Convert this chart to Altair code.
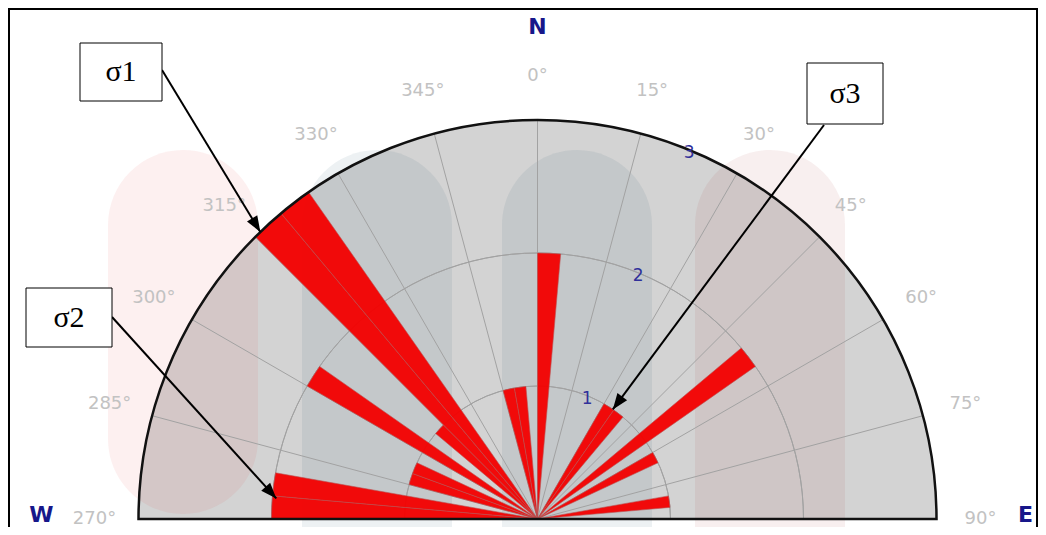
import math
import altair as alt
import pandas as pd

# ---------------- data ----------------
bin_start = [270, 275, 285, 290, 300, 310, 315, 320, 345, 350, 0, 30, 35, 50, 60, 80]
bin_count = [2, 2, 1, 1, 2, 1, 3, 3, 1, 1, 2, 1, 1, 2, 1, 1]
BIN_WIDTH = 5
angle_ticks = [270, 285, 300, 315, 330, 345, 0, 15, 30, 45, 60, 75, 90]
ring_values = [1, 2]
ring_label_values = [1, 2, 3]
MAX_COUNT = 3
cardinal_labels = ["W", "N", "E"]
cardinal_angles = [270, 0, 90]
sigma_labels = ["σ1", "σ2", "σ3"]
sigma_tip_angle = [316, 274.5, 34.5]
sigma_tip_value = [3.0, 1.97, 1.0]

# ---------------- layout ----------------
W, H = 1030, 519
CX, CY = 529.5, 511.0
R = 399.0
LABEL_R = 443.0
cardinal_r = [496, 492, 488]
cardinal_dy = [3, 7, 3]
sigma_box_x = [72, 18, 799]
sigma_box_y = [35, 280, 55]
sigma_box_w = [82, 86, 76]
sigma_box_h = [58, 59, 61]
sigma_start_x = [154, 104, 816]
sigma_start_y = [62, 309, 117]

pillar_x0 = [100, 294, 494, 687]
pillar_x1 = [250, 444, 644, 837]
pillar_y0 = [142, 142, 142, 142]
pillar_y1 = [506, 640, 640, 640]
pillar_color = ["#e03030", "#1e4a66", "#1e4a66", "#a03838"]
pillar_opacity = [0.075, 0.08, 0.08, 0.08]


def unwrap(a):
    return a if a >= 180 else a + 360


theta_scale = alt.Scale(domain=[270, 450], range=[1.5 * math.pi, 2.5 * math.pi])
radius_scale = alt.Scale(type="linear", domain=[0, MAX_COUNT], range=[0, R], zero=True, nice=False)

bars = pd.DataFrame({
    "a0": [unwrap(a) for a in bin_start],
    "a1": [unwrap(a) + BIN_WIDTH for a in bin_start],
    "r0": 0,
    "r1": bin_count,
})
half = pd.DataFrame({"a0": [270], "a1": [450], "r0": [0], "r1": [MAX_COUNT]})
rings = pd.DataFrame({"a0": 270, "a1": 450, "r": ring_values})
ticks = pd.DataFrame({"u": [unwrap(a) for a in angle_ticks], "label": [f"{a}°" for a in angle_ticks]})
rlabels = pd.DataFrame({"v": ring_label_values, "label": [str(v) for v in ring_label_values]})
cards = pd.DataFrame({"u": [unwrap(a) for a in cardinal_angles], "label": cardinal_labels,
                      "cr": cardinal_r, "dy": cardinal_dy})
sig = pd.DataFrame({
    "label": sigma_labels,
    "ta": [unwrap(a) for a in sigma_tip_angle],
    "tv": sigma_tip_value,
    "bx": sigma_box_x, "by": sigma_box_y, "bw": sigma_box_w, "bh": sigma_box_h,
    "sx": sigma_start_x, "sy": sigma_start_y,
})
pillars = pd.DataFrame({"x0": pillar_x0, "x1": pillar_x1, "y0": pillar_y0, "y1": pillar_y1,
                        "c": pillar_color, "o": pillar_opacity})

cx, cy, rr = str(CX), str(CY), str(R / MAX_COUNT)

# background half disc
bg = alt.Chart(half).mark_arc(fill="#d3d3d3").encode(
    theta=alt.Theta("a0:Q", scale=theta_scale), theta2="a1:Q",
    radius=alt.Radius("r1:Q", scale=radius_scale), radius2="r0:Q",
    x=alt.value(CX), y=alt.value(CY),
)

# watermark pillars
pil = alt.Chart(pillars).mark_rect(cornerRadius=75).encode(
    x=alt.X("x0:Q", scale=None), x2="x1:Q",
    y=alt.Y("y0:Q", scale=None), y2="y1:Q",
    color=alt.Color("c:N", scale=None),
    opacity=alt.Opacity("o:Q", scale=None),
)

# ring gridlines
ring_marks = alt.Chart(rings).mark_arc(fillOpacity=0, stroke="#a2a2a2", strokeWidth=1).encode(
    theta=alt.Theta("a0:Q", scale=theta_scale), theta2="a1:Q",
    radius=alt.Radius("r:Q", scale=radius_scale), radius2="r:Q",
    x=alt.value(CX), y=alt.value(CY),
)

# radial gridlines
spokes = alt.Chart(ticks).transform_calculate(
    x1=cx, y1=cy,
    x2=f"{cx} + {R} * sin(datum.u * PI / 180)",
    y2=f"{cy} - {R} * cos(datum.u * PI / 180)",
).mark_rule(color="#a2a2a2", strokeWidth=1).encode(
    x=alt.X("x1:Q", scale=None), y=alt.Y("y1:Q", scale=None),
    x2="x2:Q", y2="y2:Q",
)

# petals
petals = alt.Chart(bars).mark_arc(fill="#f40000", stroke="#b85050", strokeWidth=0.6, opacity=0.95).encode(
    theta=alt.Theta("a0:Q", scale=theta_scale), theta2="a1:Q",
    radius=alt.Radius("r1:Q", scale=radius_scale), radius2="r0:Q",
    x=alt.value(CX), y=alt.value(CY),
)

# outline of the half disc
outline = alt.Chart(half).mark_arc(fillOpacity=0, stroke="#111111", strokeWidth=2.5).encode(
    theta=alt.Theta("a0:Q", scale=theta_scale), theta2="a1:Q",
    radius=alt.Radius("r1:Q", scale=radius_scale), radius2="r0:Q",
    x=alt.value(CX), y=alt.value(CY),
)

# angle labels
tick_text = alt.Chart(ticks).transform_calculate(
    lx=f"{cx} + {LABEL_R} * sin(datum.u * PI / 180)",
    ly=f"{cy} - {LABEL_R} * cos(datum.u * PI / 180)",
).mark_text(font="DejaVu Sans", fontSize=18, color="#c2c2c2", align="center", baseline="middle").encode(
    x=alt.X("lx:Q", scale=None), y=alt.Y("ly:Q", scale=None), text="label:N",
)

# ring value labels
rl_text = alt.Chart(rlabels).transform_calculate(
    lx=f"{cx} + (datum.v * {rr} - 3) * sin(22.5 * PI / 180)",
    ly=f"{cy} - (datum.v * {rr} - 3) * cos(22.5 * PI / 180)",
).mark_text(font="DejaVu Sans", fontSize=17, color="#30309a", align="center", baseline="middle").encode(
    x=alt.X("lx:Q", scale=None), y=alt.Y("ly:Q", scale=None), text="label:N",
)

# cardinal labels
card_text = alt.Chart(cards).transform_calculate(
    lx="{} + datum.cr * sin(datum.u * PI / 180)".format(cx),
    ly="{} - datum.cr * cos(datum.u * PI / 180) + datum.dy".format(cy),
).mark_text(font="DejaVu Sans", fontSize=22, fontWeight="bold", color="#17178a",
            align="center", baseline="alphabetic").encode(
    x=alt.X("lx:Q", scale=None), y=alt.Y("ly:Q", scale=None), text="label:N",
)

# sigma annotation
sig_base = alt.Chart(sig).transform_calculate(
    tx=f"{cx} + datum.tv * {rr} * sin(datum.ta * PI / 180)",
    ty=f"{cy} - datum.tv * {rr} * cos(datum.ta * PI / 180)",
    ang="(atan2(datum.tx - datum.sx, datum.sy - datum.ty) * 180 / PI + 360) % 360",
    bx2="datum.bx + datum.bw", by2="datum.by + datum.bh",
    cxb="datum.bx + datum.bw / 2", cyb="datum.by + datum.bh / 2",
)
arrow_line = sig_base.mark_rule(color="#000000", strokeWidth=2).encode(
    x=alt.X("sx:Q", scale=None), y=alt.Y("sy:Q", scale=None),
    x2="tx:Q", y2="ty:Q",
)
arrow_head = sig_base.mark_point(
    shape="M0,0L-0.38,1L0.38,1Z", filled=True, fill="#000000", opacity=1, size=1000,
).encode(
    x=alt.X("tx:Q", scale=None), y=alt.Y("ty:Q", scale=None),
    angle=alt.Angle("ang:Q", scale=None),
)
boxes = sig_base.mark_rect(fill="#ffffff", stroke="#000000", strokeWidth=1).encode(
    x=alt.X("bx:Q", scale=None), x2="bx2:Q",
    y=alt.Y("by:Q", scale=None), y2="by2:Q",
)
box_text = sig_base.mark_text(font="Liberation Serif", fontSize=30, color="#000000",
                              align="center", baseline="middle").encode(
    x=alt.X("cxb:Q", scale=None), y=alt.Y("cyb:Q", scale=None), text="label:N",
)

# frame
frame_df = pd.DataFrame({"x0": [1], "x1": [W - 1], "y0": [1], "y1": [H + 40]})
frame = alt.Chart(frame_df).mark_rect(fillOpacity=0, stroke="#000000", strokeWidth=2).encode(
    x=alt.X("x0:Q", scale=None), x2="x1:Q", y=alt.Y("y0:Q", scale=None), y2="y1:Q",
)

chart = alt.layer(
    bg, pil, ring_marks, spokes, petals, outline, tick_text, rl_text, card_text,
    arrow_line, arrow_head, boxes, box_text, frame,
).properties(
    width=W, height=H, autosize=alt.AutoSizeParams(type="none"), padding=0,
    background="#ffffff",
).configure_view(strokeWidth=0)

chart.save("out.html", embed_options={"renderer": "svg", "actions": False})
